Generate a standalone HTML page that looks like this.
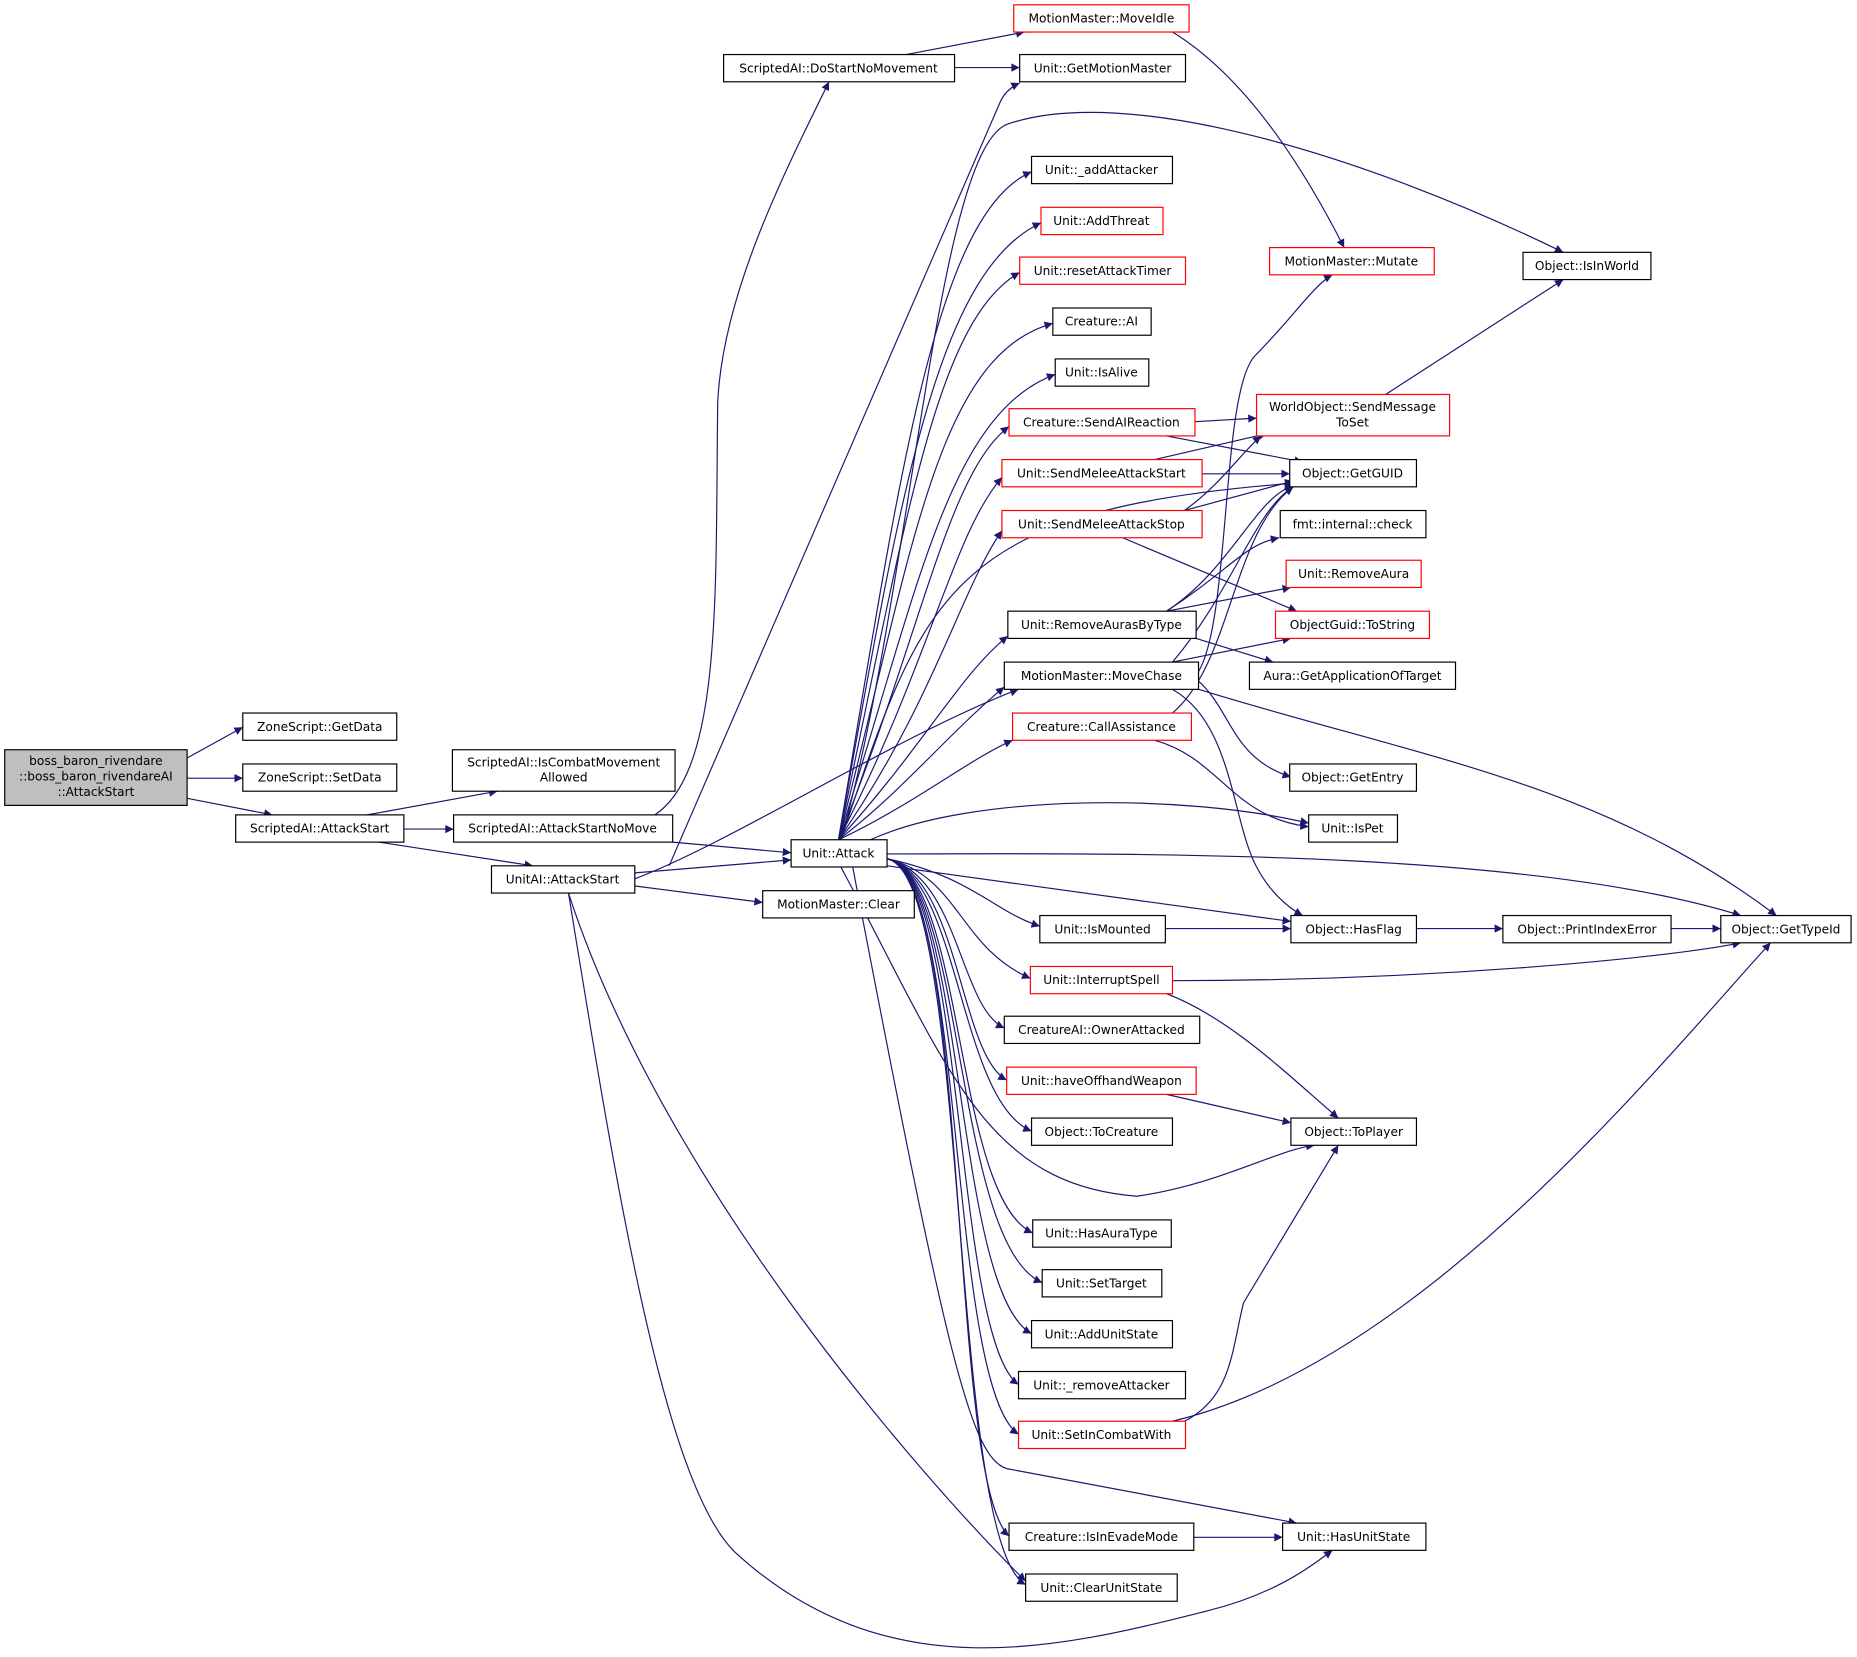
<!DOCTYPE html>
<html><head><meta charset="utf-8"><style>
html,body{margin:0;padding:0;background:#fff;}
svg{display:block}
text{font-family:"DejaVu Sans","Liberation Sans",sans-serif;font-size:10.3px;fill:#000;text-anchor:middle}
.n{fill:#fff;stroke:#000;stroke-width:1}
.r{fill:#fff;stroke:#ff0000;stroke-width:1}
.e{fill:none;stroke:#191970;stroke-width:1}
</style></head><body>
<svg width="1857" height="1657" viewBox="0 0 1568 1399" xmlns="http://www.w3.org/2000/svg">
<defs><marker id="a" viewBox="0 0 10 10" refX="10" refY="5" markerWidth="10" markerHeight="7" markerUnits="userSpaceOnUse" orient="auto"><path d="M0,0 L10,5 L0,10 z" fill="#191970"/></marker></defs>
<g class="e" marker-end="url(#a)">
<path d="M158 640 L205 614"/>
<path d="M158 657 L205 657"/>
<path d="M158 674 L230 688"/>
<path d="M310 688 L420 668"/>
<path d="M341 700 L383 700"/>
<path d="M320 711 L450 731"/>
<path d="M553 688 C610 650,604 500,606 340 C610 250,660 150,700 69"/>
<path d="M568 711 L668 720"/>
<path d="M765 46 L865 27"/>
<path d="M806 57 L861 57"/>
<path d="M565 731 L845 85 Q850 75 861 70"/>
<path d="M536 737 L668 726"/>
<path d="M536 748 L644 762"/>
<path d="M536 742 C620 710,760 620,860 582"/>
<path d="M480 754 C560 1000,780 1250,866 1335"/>
<path d="M480 754 C520 1000,560 1250,620 1310 C750 1430,900 1390,1020 1360 C1080 1345,1110 1320,1125 1309"/>
<path d="M990 27 C1060 70,1110 160,1135 209"/>
<path d="M710 709 C770 500,790 130,850 105 C950 70,1150 130,1320 213"/>
<path d="M1010 570 C1040 530,1030 330,1060 300 C1090 270,1110 240,1125 232"/>
<path d="M1170 333 L1320 236"/>
<path d="M1009 356 L1061 353"/>
<path d="M985 368 L1100 390"/>
<path d="M975 388 L1070 366"/>
<path d="M1015 400 L1089 400"/>
<path d="M1000 431 L1092 406"/>
<path d="M1000 431 C1030 410,1050 380,1065 368"/>
<path d="M948 454 L1095 516"/>
<path d="M1010 539 L1075 559"/>
<path d="M985 516 L1090 496"/>
<path d="M985 516 C1040 480,1050 460,1080 454"/>
<path d="M985 516 C1040 480,1060 420,1092 410"/>
<path d="M990 559 C1040 500,1060 430,1092 411"/>
<path d="M990 559 L1090 539"/>
<path d="M1012 575 C1040 600,1040 640,1090 656"/>
<path d="M990 582 C1040 610,1040 690,1060 730 C1070 750,1085 765,1100 773"/>
<path d="M1012 582 C1200 640,1350 660,1500 773"/>
<path d="M990 602 C1040 560,1040 450,1092 411"/>
<path d="M975 625 C1030 640,1040 690,1105 698"/>
<path d="M735 709 C820 670,1000 670,1105 695"/>
<path d="M749 721 C1000 720,1300 720,1470 773"/>
<path d="M749 731 L1090 778"/>
<path d="M984 784 L1090 784"/>
<path d="M1196 784 L1269 784"/>
<path d="M1411 784 L1453 784"/>
<path d="M990 828 C1200 828,1400 810,1470 796"/>
<path d="M985 839 C1040 860,1090 910,1130 944"/>
<path d="M985 924 L1090 948"/>
<path d="M710 732 C800 900,830 1000,960 1010 C1030 1000,1080 970,1110 967"/>
<path d="M1000 1200 C1040 1180,1040 1140,1050 1100 L1130 967"/>
<path d="M990 1200 C1200 1150,1400 900,1495 796"/>
<path d="M1008 1298 L1083 1298"/>
<path d="M720 732 C800 1150,820 1230,850 1240 L1095 1286"/>
<path d="M710 709 C780 500,800 430,1092 408"/>
<!-- Unit::Attack upward -->
<path d="M708 709 C760 400,790 180,871 145"/>
<path d="M708 709 C760 420,790 230,879 188"/>
<path d="M708 709 C765 440,790 270,861 230"/>
<path d="M708 709 C770 470,790 300,889 273"/>
<path d="M708 709 C775 500,800 350,891 316"/>
<path d="M708 709 C780 530,800 400,852 360"/>
<path d="M708 709 C785 560,805 450,846 403"/>
<path d="M708 709 C790 590,810 500,846 448"/>
<path d="M708 709 C780 630,810 570,851 537"/>
<path d="M708 709 C760 670,800 620,848 580"/>
<path d="M708 709 C770 680,820 640,855 625"/>
<!-- Unit::Attack downward -->
<path d="M749 725 C820 740,840 770,878 782"/>
<path d="M749 725 C810 740,810 800,870 826"/>
<path d="M749 725 C810 740,810 850,848 868"/>
<path d="M749 725 C810 740,810 890,850 912"/>
<path d="M749 725 C810 740,810 930,871 955"/>
<path d="M749 725 C815 740,805 1010,872 1041"/>
<path d="M749 725 C815 740,805 1050,880 1083"/>
<path d="M749 725 C815 740,805 1090,871 1126"/>
<path d="M749 725 C815 740,805 1130,860 1169"/>
<path d="M749 725 C815 740,800 1170,860 1211"/>
<path d="M749 725 C820 740,800 1250,852 1297"/>
<path d="M749 725 C820 740,800 1300,866 1338"/>
</g>
<rect x="4" y="633" width="154" height="47" fill="#bfbfbf" stroke="#000"/>
<text x="81" y="646">boss_baron_rivendare</text><text x="81" y="659">::boss_baron_rivendareAI</text><text x="81" y="672">::AttackStart</text>
<rect class="n" x="205" y="602" width="130" height="23"/><text x="270" y="617">ZoneScript::GetData</text>
<rect class="n" x="205" y="645" width="130" height="23"/><text x="270" y="660">ZoneScript::SetData</text>
<rect class="n" x="199" y="688" width="142" height="23"/><text x="270" y="703">ScriptedAI::AttackStart</text>
<rect class="n" x="382" y="633" width="188" height="35"/><text x="476" y="647">ScriptedAI::IsCombatMovement</text><text x="476" y="660">Allowed</text>
<rect class="n" x="383" y="688" width="185" height="23"/><text x="475" y="703">ScriptedAI::AttackStartNoMove</text>
<rect class="n" x="415" y="731" width="121" height="23"/><text x="475" y="746">UnitAI::AttackStart</text>
<rect class="n" x="611" y="46" width="195" height="23"/><text x="708" y="61">ScriptedAI::DoStartNoMovement</text>
<rect class="n" x="668" y="709" width="81" height="23"/><text x="708" y="724">Unit::Attack</text>
<rect class="n" x="644" y="752" width="128" height="23"/><text x="708" y="767">MotionMaster::Clear</text>
<rect class="r" x="856" y="4" width="148" height="23"/><text x="930" y="19">MotionMaster::MoveIdle</text>
<rect class="n" x="861" y="46" width="140" height="23"/><text x="931" y="61">Unit::GetMotionMaster</text>
<rect class="n" x="871" y="132" width="119" height="23"/><text x="930" y="147">Unit::_addAttacker</text>
<rect class="r" x="879" y="175" width="103" height="23"/><text x="930" y="190">Unit::AddThreat</text>
<rect class="r" x="861" y="217" width="140" height="23"/><text x="931" y="232">Unit::resetAttackTimer</text>
<rect class="n" x="889" y="260" width="83" height="23"/><text x="930" y="275">Creature::AI</text>
<rect class="n" x="891" y="303" width="79" height="23"/><text x="930" y="318">Unit::IsAlive</text>
<rect class="r" x="852" y="345" width="157" height="23"/><text x="930" y="360">Creature::SendAIReaction</text>
<rect class="r" x="846" y="388" width="169" height="23"/><text x="930" y="403">Unit::SendMeleeAttackStart</text>
<rect class="r" x="846" y="431" width="169" height="23"/><text x="930" y="446">Unit::SendMeleeAttackStop</text>
<rect class="n" x="851" y="516" width="159" height="23"/><text x="930" y="531">Unit::RemoveAurasByType</text>
<rect class="n" x="848" y="559" width="164" height="23"/><text x="930" y="574">MotionMaster::MoveChase</text>
<rect class="r" x="855" y="602" width="151" height="23"/><text x="930" y="617">Creature::CallAssistance</text>
<rect class="n" x="878" y="773" width="106" height="23"/><text x="931" y="788">Unit::IsMounted</text>
<rect class="r" x="870" y="816" width="120" height="23"/><text x="930" y="831">Unit::InterruptSpell</text>
<rect class="n" x="848" y="858" width="165" height="23"/><text x="930" y="873">CreatureAI::OwnerAttacked</text>
<rect class="r" x="850" y="901" width="160" height="23"/><text x="930" y="916">Unit::haveOffhandWeapon</text>
<rect class="n" x="871" y="944" width="119" height="23"/><text x="930" y="959">Object::ToCreature</text>
<rect class="n" x="872" y="1030" width="117" height="23"/><text x="930" y="1045">Unit::HasAuraType</text>
<rect class="n" x="880" y="1072" width="101" height="23"/><text x="930" y="1087">Unit::SetTarget</text>
<rect class="n" x="871" y="1115" width="119" height="23"/><text x="930" y="1130">Unit::AddUnitState</text>
<rect class="n" x="860" y="1158" width="141" height="23"/><text x="930" y="1173">Unit::_removeAttacker</text>
<rect class="r" x="860" y="1200" width="141" height="23"/><text x="930" y="1215">Unit::SetInCombatWith</text>
<rect class="n" x="852" y="1286" width="156" height="23"/><text x="930" y="1301">Creature::IsInEvadeMode</text>
<rect class="n" x="866" y="1329" width="128" height="23"/><text x="930" y="1344">Unit::ClearUnitState</text>
<rect class="r" x="1072" y="209" width="139" height="23"/><text x="1141" y="224">MotionMaster::Mutate</text>
<rect class="n" x="1286" y="213" width="108" height="23"/><text x="1340" y="228">Object::IsInWorld</text>
<rect class="r" x="1061" y="333" width="163" height="35"/><text x="1142" y="347">WorldObject::SendMessage</text><text x="1142" y="360">ToSet</text>
<rect class="n" x="1089" y="388" width="107" height="23"/><text x="1142" y="403">Object::GetGUID</text>
<rect class="n" x="1081" y="431" width="123" height="23"/><text x="1142" y="446">fmt::internal::check</text>
<rect class="r" x="1086" y="473" width="114" height="23"/><text x="1143" y="488">Unit::RemoveAura</text>
<rect class="r" x="1077" y="516" width="130" height="23"/><text x="1142" y="531">ObjectGuid::ToString</text>
<rect class="n" x="1055" y="559" width="174" height="23"/><text x="1142" y="574">Aura::GetApplicationOfTarget</text>
<rect class="n" x="1089" y="645" width="107" height="23"/><text x="1142" y="660">Object::GetEntry</text>
<rect class="n" x="1105" y="688" width="75" height="23"/><text x="1142" y="703">Unit::IsPet</text>
<rect class="n" x="1090" y="773" width="106" height="23"/><text x="1143" y="788">Object::HasFlag</text>
<rect class="n" x="1090" y="944" width="106" height="23"/><text x="1143" y="959">Object::ToPlayer</text>
<rect class="n" x="1083" y="1286" width="121" height="23"/><text x="1143" y="1301">Unit::HasUnitState</text>
<rect class="n" x="1269" y="773" width="142" height="23"/><text x="1340" y="788">Object::PrintIndexError</text>
<rect class="n" x="1453" y="773" width="110" height="23"/><text x="1508" y="788">Object::GetTypeId</text>
</svg>
</body></html>
